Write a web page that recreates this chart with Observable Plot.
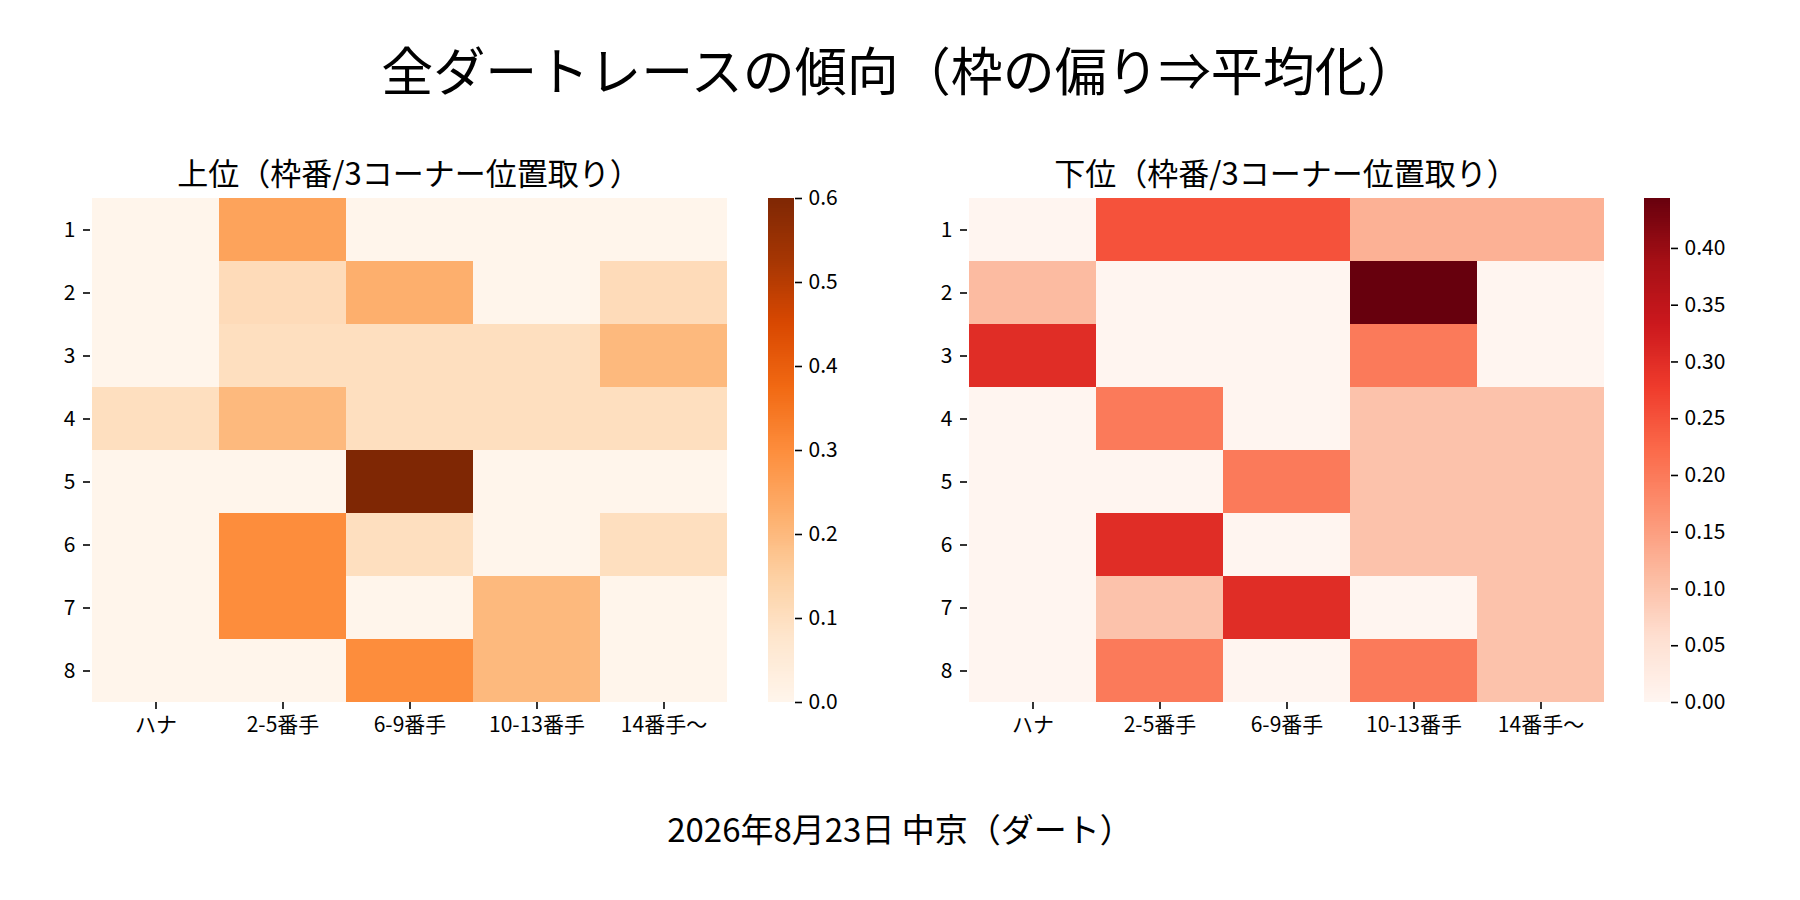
<!DOCTYPE html>
<html><head><meta charset="utf-8">
<script src="https://cdn.jsdelivr.net/npm/d3@7"></script>
<script src="https://cdn.jsdelivr.net/npm/@observablehq/plot@0.6"></script>
<style>
body{margin:0;background:#fff;}
#wrap{position:relative;width:1800px;height:900px;background:#fff;overflow:hidden;font-family:"Noto Sans CJK JP",sans-serif;}
#wrap > svg{position:absolute;}
</style></head><body><div id="wrap"></div>
<script>
// ---- data ----
const rows = ["1","2","3","4","5","6","7","8"];
const cols = ["ハナ","2-5番手","6-9番手","10-13番手","14番手〜"];
const upperValues = [
  [0,   0.25,  0,     0,   0],
  [0,   0.111, 0.222, 0,   0.111],
  [0,   0.1,   0.1,   0.1, 0.2],
  [0.1, 0.2,   0.1,   0.1, 0.1],
  [0,   0,     0.6,   0,   0],
  [0,   0.3,   0.1,   0,   0.1],
  [0,   0.3,   0,     0.2, 0],
  [0,   0,     0.3,   0.2, 0]
];
const lowerValues = [
  [0,     0.25, 0.25, 0.125, 0.125],
  [0.111, 0,    0,    0.444, 0],
  [0.3,   0,    0,    0.2,   0],
  [0,     0.2,  0,    0.1,   0.1],
  [0,     0,    0.2,  0.1,   0.1],
  [0,     0.3,  0,    0.1,   0.1],
  [0,     0.1,  0.3,  0,     0.1],
  [0,     0.2,  0,    0.2,   0.1]
];
const upperTicks = [0, 0.1, 0.2, 0.3, 0.4, 0.5, 0.6];
const lowerTicks = [0, 0.05, 0.1, 0.15, 0.2, 0.25, 0.3, 0.35, 0.4];
const mainTitle = "全ダートレースの傾向（枠の偏り⇒平均化）";
const upperTitle = "上位（枠番/3コーナー位置取り）";
const lowerTitle = "下位（枠番/3コーナー位置取り）";
const caption = "2026年8月23日 中京（ダート）";
const orangesStops = ["#fff5eb","#fee6ce","#fdd0a2","#fdae6b","#fd8d3c","#f16913","#d94801","#a63603","#7f2704"];
const redsStops = ["#fff5f0","#fee0d2","#fcbba1","#fc9272","#fb6a4a","#ef3b2c","#cb181d","#a50f15","#67000d"];

// ---- layout ----
const FONT = '"Noto Sans CJK JP", sans-serif';
const TOP = 198, H = 504, W = 638;
const wrap = document.getElementById("wrap");

function toCells(values) {
  return values.flatMap((r, i) => r.map((v, j) => ({row: rows[i], col: cols[j], value: v})));
}
function colorScale(stops, vmax) {
  return {type: "linear", domain: stops.map((_, i) => vmax * i / (stops.length - 1)), range: stops, interpolate: "rgb"};
}
function place(svg, left) {
  svg.style.left = left + "px";
  svg.style.top = "0px";
  wrap.appendChild(svg);
}
function heat(values, stops, x0) {
  const vmax = d3.max(values.flat());
  const ML = 90;
  const p = Plot.plot({
    width: ML + W + 10, height: TOP + H + 60,
    marginLeft: ML, marginRight: 10, marginTop: TOP, marginBottom: 60,
    style: {fontFamily: FONT, fontSize: "21px", color: "#000", background: "transparent"},
    x: {domain: cols, padding: 0, label: null},
    y: {domain: rows, padding: 0, label: null},
    color: colorScale(stops, vmax),
    marks: [
      Plot.cell(toCells(values), {x: "col", y: "row", fill: "value", inset: 0, shapeRendering: "crispEdges"}),
      Plot.axisX({anchor: "bottom", tickSize: 7, tickPadding: 8, strokeWidth: 1.6, label: null}),
      Plot.axisY({anchor: "left", tickSize: 7, tickPadding: 8, strokeWidth: 1.6, label: null})
    ]
  });
  place(p, x0 - ML);
}
function colorbar(values, stops, ticks, fmt, x0) {
  const vmax = d3.max(values.flat());
  const N = 256;
  const bins = d3.range(N).map(i => ({y1: vmax * i / N, y2: vmax * (i + 1) / N, v: vmax * (i + 0.5) / N}));
  const p = Plot.plot({
    width: 26 + 90, height: TOP + H + 30,
    marginLeft: 0, marginRight: 90, marginTop: TOP, marginBottom: 30,
    style: {fontFamily: FONT, fontSize: "21px", color: "#000", background: "transparent"},
    x: {domain: [0, 1], axis: null},
    y: {domain: [0, vmax], label: null},
    color: colorScale(stops, vmax),
    marks: [
      Plot.rect(bins, {x1: 0, x2: 1, y1: "y1", y2: "y2", fill: "v", shapeRendering: "crispEdges"}),
      Plot.axisY({anchor: "right", ticks: ticks, tickFormat: d3.format(fmt), tickSize: 7, tickPadding: 7, strokeWidth: 1.6, label: null})
    ]
  });
  place(p, x0);
}

heat(upperValues, orangesStops, 90);
colorbar(upperValues, orangesStops, upperTicks, ".1f", 768);
heat(lowerValues, redsStops, 967);
colorbar(lowerValues, redsStops, lowerTicks, ".2f", 1644);

// ---- texts ----
const svg = d3.select(wrap).append("svg")
  .attr("width", 1800).attr("height", 900)
  .style("left", "0px").style("top", "0px").style("pointer-events", "none")
  .attr("font-family", FONT).attr("fill", "#000");
svg.append("text").attr("x", 900).attr("y", 91).attr("text-anchor", "middle").attr("font-size", 52).text(mainTitle);
svg.append("text").attr("x", 90 + W / 2).attr("y", 185).attr("text-anchor", "middle").attr("font-size", 31).text(upperTitle);
svg.append("text").attr("x", 967 + W / 2).attr("y", 185).attr("text-anchor", "middle").attr("font-size", 31).text(lowerTitle);
svg.append("text").attr("x", 900).attr("y", 842).attr("text-anchor", "middle").attr("font-size", 33).text(caption);
</script></body></html>
